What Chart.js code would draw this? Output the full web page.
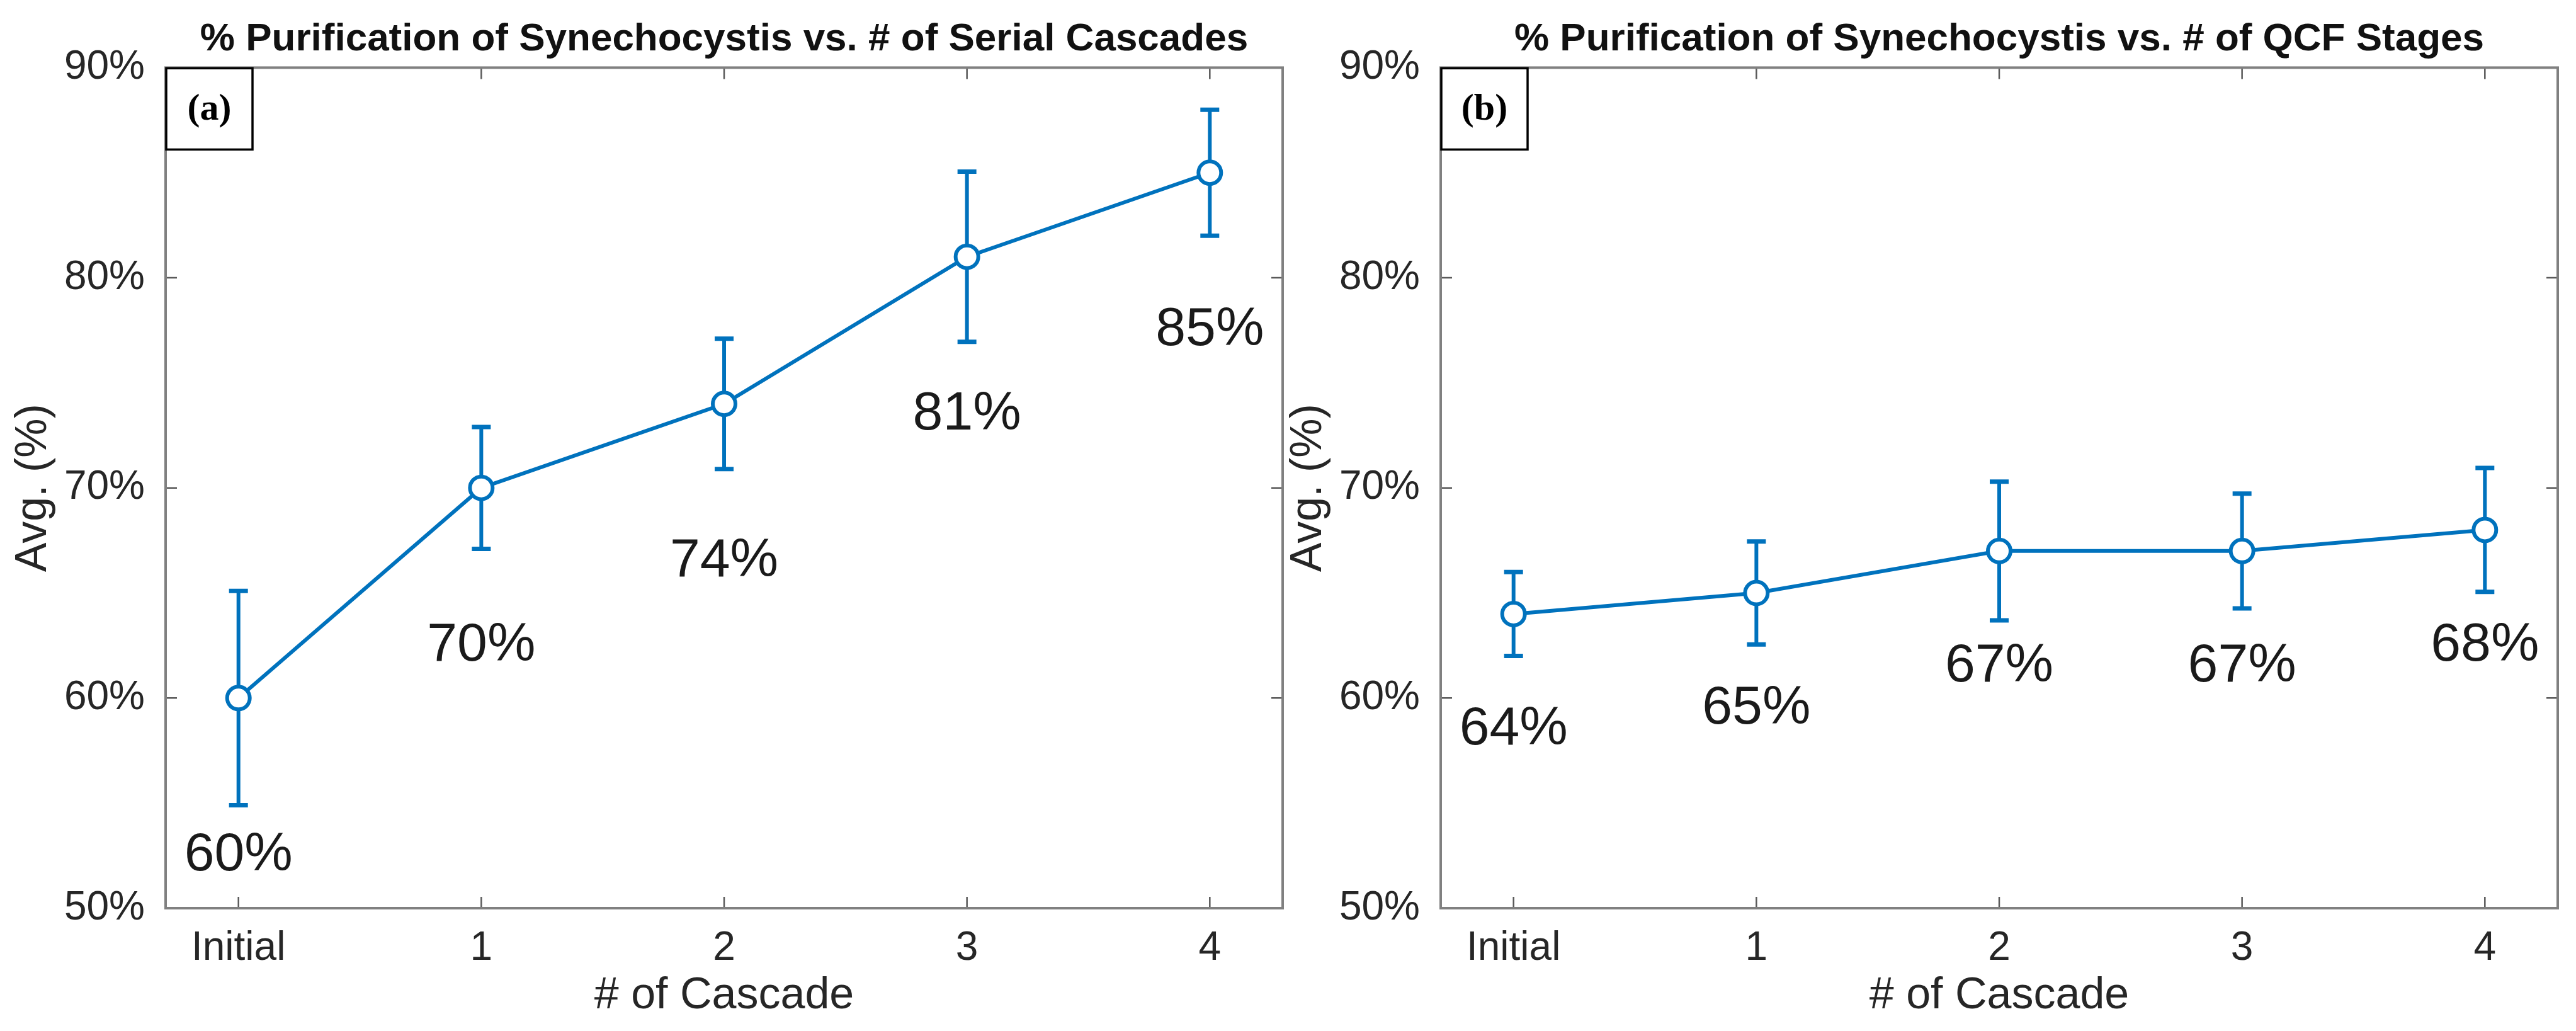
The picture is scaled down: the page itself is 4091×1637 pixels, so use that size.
<!DOCTYPE html>
<html>
<head>
<meta charset="utf-8">
<title>% Purification of Synechocystis</title>
<script src="https://cdn.jsdelivr.net/npm/chart.js@4.4.1/dist/chart.umd.min.js"></script>
<style>
    html, body { margin: 0; padding: 0; background: #ffffff; }
    body { width: 4091px; height: 1637px; position: relative; overflow: hidden; }
    canvas { position: absolute; top: 0; }
    #cascadeChart { left: 0; }
    #qcfChart { left: 2025px; }
</style>
</head>
<body>
<canvas id="cascadeChart" width="2066" height="1637"></canvas>
<canvas id="qcfChart" width="2066" height="1637"></canvas>

<script>
/* ---------- DATA ---------- */
const CATEGORIES = ["Initial", "1", "2", "3", "4"];
const Y_TICKS = [50, 60, 70, 80, 90];

// (a) serial cascades
const CASCADE_AVG = [60, 70, 74, 81, 85];
const CASCADE_ERR = [5.1, 2.9, 3.1, 4.05, 3.0];

// (b) QCF stages
const QCF_AVG = [64, 65, 67, 67, 68];
const QCF_ERR = [2.0, 2.45, 3.3, 2.73, 2.95];

/* ---------- STYLE ---------- */
const BLUE = "#0072BD";
const TEXT = "#262626";
const AXIS = "#808080";
const SANS = "'Liberation Sans', Arial, Helvetica, sans-serif";
const SERIF = "'Liberation Serif', 'Times New Roman', serif";

Chart.defaults.font.family = SANS;
Chart.defaults.color = TEXT;

/* =====================================================
   PLUGIN – error bars, value text, boxed axes, panel tag
===================================================== */
const matlabLook = {
    id: "matlabLook",

    beforeDatasetsDraw(chart, args, opts) {
        const { ctx, scales: { x, y } } = chart;
        ctx.save();
        ctx.strokeStyle = BLUE;
        ctx.lineCap = "butt";
        opts.avg.forEach((v, i) => {
            const px = x.getPixelForValue(i);
            const hi = y.getPixelForValue(v + opts.err[i]);
            const lo = y.getPixelForValue(v - opts.err[i]);
            ctx.lineWidth = 6;
            ctx.beginPath();
            ctx.moveTo(px, hi);
            ctx.lineTo(px, lo);
            ctx.stroke();
            ctx.lineWidth = 7;
            ctx.beginPath();
            ctx.moveTo(px - 15, hi); ctx.lineTo(px + 15, hi);
            ctx.moveTo(px - 15, lo); ctx.lineTo(px + 15, lo);
            ctx.stroke();
        });
        ctx.restore();
    },

    afterDatasetsDraw(chart, args, opts) {
        const { ctx, scales: { x, y } } = chart;
        ctx.save();
        ctx.font = "86px " + SANS;
        ctx.fillStyle = "#1a1a1a";
        ctx.textAlign = "center";
        ctx.textBaseline = "middle";
        opts.avg.forEach((v, i) => {
            ctx.fillText(v + "%", x.getPixelForValue(i), y.getPixelForValue(v - opts.drop));
        });
        ctx.restore();
    },

    afterDraw(chart, args, opts) {
        const { ctx, chartArea: a, scales: { x, y } } = chart;
        const tick = 18;
        ctx.save();

        // inner ticks on all four sides
        ctx.strokeStyle = "#5a5a5a";
        ctx.lineWidth = 2.5;
        ctx.beginPath();
        CATEGORIES.forEach((c, i) => {
            const px = x.getPixelForValue(i);
            ctx.moveTo(px, a.bottom); ctx.lineTo(px, a.bottom - tick);
            ctx.moveTo(px, a.top); ctx.lineTo(px, a.top + tick);
        });
        Y_TICKS.forEach(v => {
            const py = y.getPixelForValue(v);
            ctx.moveTo(a.left, py); ctx.lineTo(a.left + tick, py);
            ctx.moveTo(a.right, py); ctx.lineTo(a.right - tick, py);
        });
        ctx.stroke();

        // axes box
        ctx.strokeStyle = AXIS;
        ctx.lineWidth = 4;
        ctx.strokeRect(a.left, a.top, a.right - a.left, a.bottom - a.top);

        // panel tag
        const w = 139, h = 131;
        ctx.fillStyle = "#ffffff";
        ctx.fillRect(a.left, a.top, w, h);
        ctx.strokeStyle = "#000000";
        ctx.lineWidth = 3.5;
        ctx.strokeRect(a.left + 1, a.top + 1, w - 2, h - 2);
        ctx.fillStyle = "#000000";
        ctx.font = "bold 60px " + SERIF;
        ctx.textAlign = "center";
        ctx.textBaseline = "middle";
        ctx.fillText(opts.tag, a.left + w / 2, a.top + h / 2 + 2);

        ctx.restore();
    }
};

/* =====================================================
   CHART BUILDER
===================================================== */
function buildChart(canvasId, title, avg, err, drop, tag) {
    return new Chart(document.getElementById(canvasId), {
        type: "line",
        data: {
            datasets: [{
                data: avg.map((v, i) => ({ x: i, y: v })),
                borderColor: BLUE,
                borderWidth: 6,
                tension: 0,
                pointRadius: 18,
                pointHoverRadius: 18,
                pointBorderWidth: 6,
                pointBackgroundColor: "#ffffff",
                pointBorderColor: BLUE,
                clip: false
            }]
        },
        options: {
            responsive: false,
            devicePixelRatio: 1,
            animation: false,
            events: [],
            layout: {
                padding: { left: 0, right: 29, top: 0, bottom: 0 }
            },
            scales: {
                x: {
                    type: "linear",
                    min: -0.3,
                    max: 4.3,
                    afterBuildTicks: s => { s.ticks = CATEGORIES.map((c, i) => ({ value: i })); },
                    afterFit: s => { s.height = 195; },
                    grid: { display: false },
                    border: { display: false },
                    ticks: {
                        autoSkip: false,
                        maxRotation: 0,
                        padding: 18,
                        font: { size: 64 },
                        color: TEXT,
                        callback: v => CATEGORIES[v]
                    },
                    title: {
                        display: true,
                        text: "# of Cascade",
                        font: { size: 70 },
                        color: TEXT,
                        padding: { top: 0, bottom: 13 }
                    }
                },
                y: {
                    min: 50,
                    max: 90,
                    afterBuildTicks: s => { s.ticks = Y_TICKS.map(v => ({ value: v })); },
                    afterFit: s => { s.width = 263; },
                    grid: { display: false },
                    border: { display: false },
                    ticks: {
                        padding: 25,
                        font: { size: 64 },
                        color: TEXT,
                        callback: v => v + "%"
                    },
                    title: {
                        display: true,
                        text: "Avg. (%)",
                        font: { size: 70 },
                        color: TEXT,
                        padding: { top: 12, bottom: 0 }
                    }
                }
            },
            plugins: {
                legend: { display: false },
                tooltip: { enabled: false },
                title: {
                    display: true,
                    text: title,
                    fullSize: false,
                    color: "#111111",
                    font: { size: 62, weight: "bold" },
                    padding: { top: 26, bottom: 7 }
                },
                matlabLook: { avg: avg, err: err, drop: drop, tag: tag }
            }
        },
        plugins: [matlabLook]
    });
}

buildChart("cascadeChart",
    "% Purification of Synechocystis vs. # of Serial Cascades",
    CASCADE_AVG, CASCADE_ERR, 7.5, "(a)");

buildChart("qcfChart",
    "% Purification of Synechocystis vs. # of QCF Stages",
    QCF_AVG, QCF_ERR, 5.5, "(b)");
</script>
</body>
</html>
